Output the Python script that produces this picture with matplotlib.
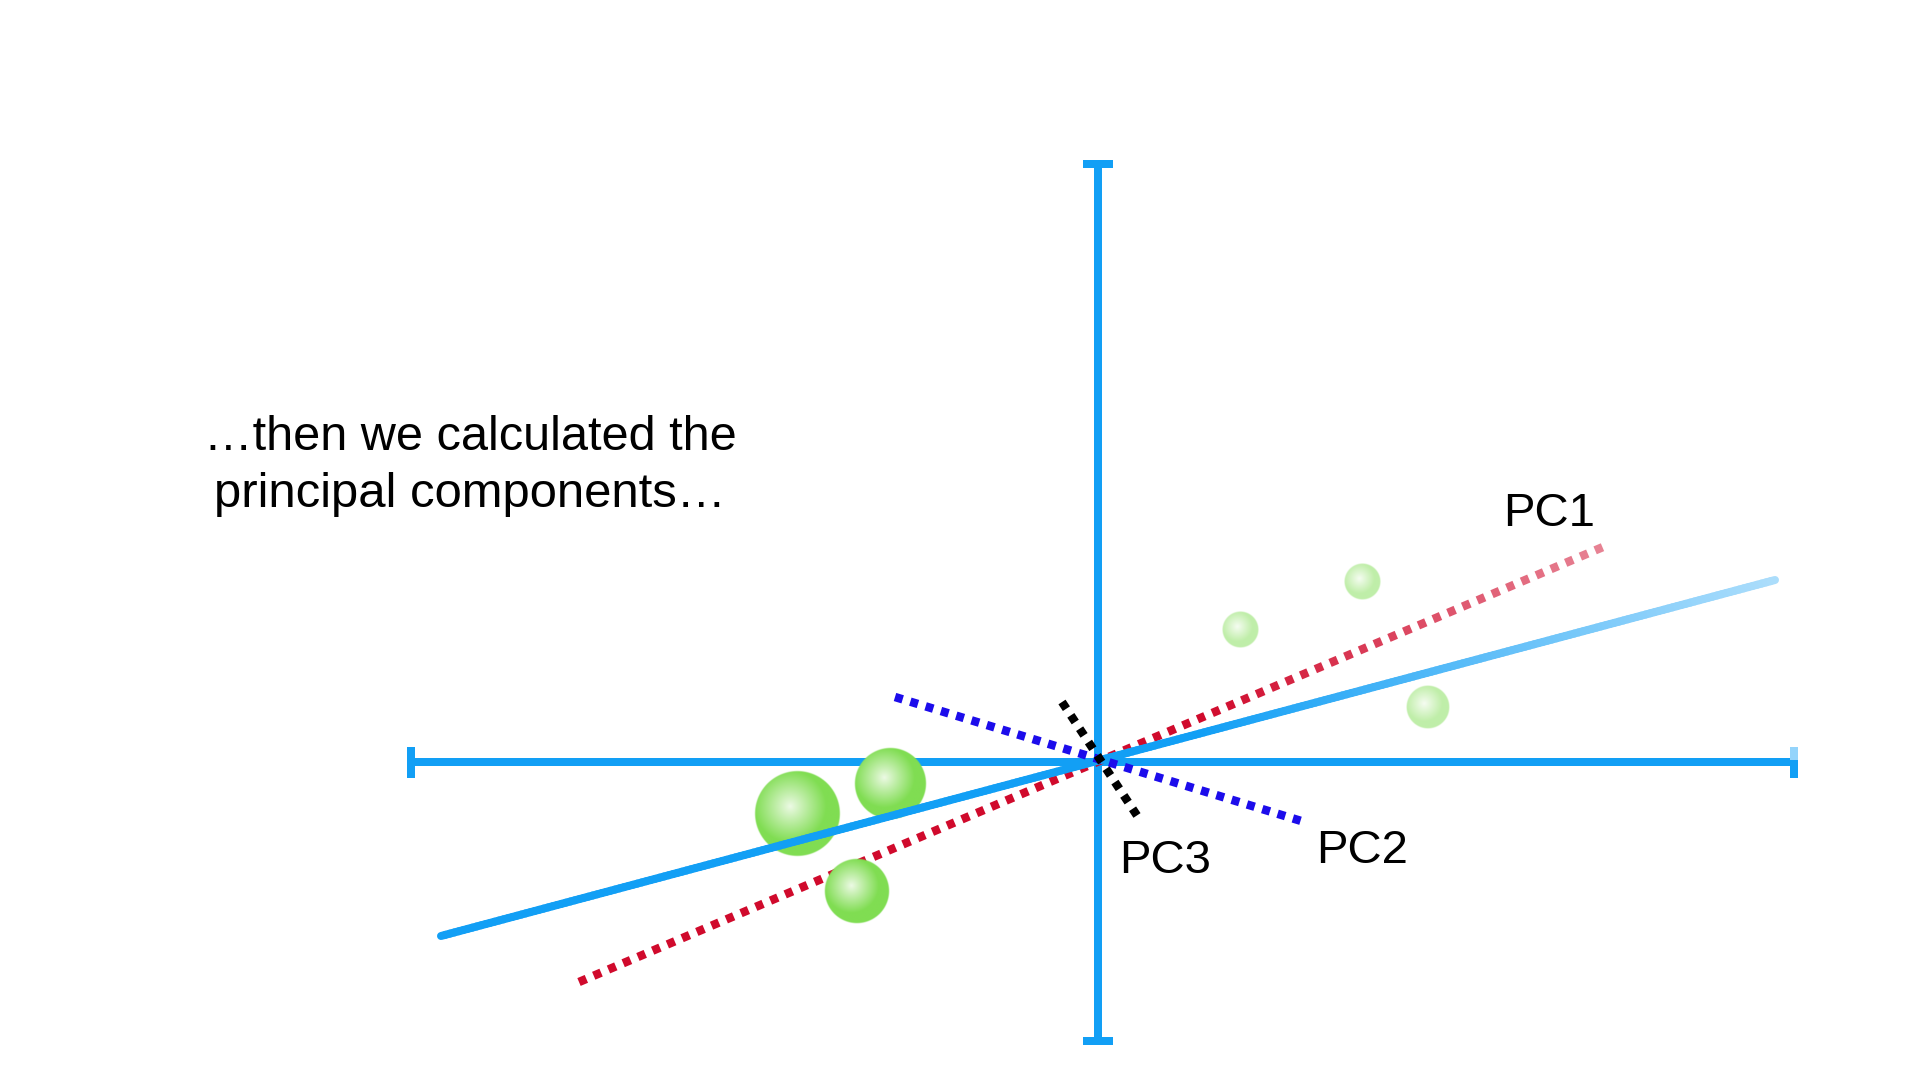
#!/usr/bin/env python3
"""PCA slide: rotated axes through the centre, with green samples around them."""
import matplotlib
matplotlib.use("Agg")
import matplotlib.pyplot as plt
import numpy as np
from matplotlib.collections import LineCollection
from matplotlib.colors import to_rgb

plt.rcParams["font.family"] = ["Liberation Sans", "DejaVu Sans"]

# everything is in pixels of the 1920x1080 slide, y going down
AXIS_H = [(411, 762), (1794, 762)]
AXIS_V = [(1098, 164), (1098, 1041)]
TILTED = [(441, 936), (1775, 580)]
PC1 = [(579, 982), (1603, 547)]
PC2 = [(895, 697), (1298, 820)]
PC3 = [(1062, 702), (1138, 817)]

# centre x, centre y, radius, opacity
FRONT_X = [797, 890, 857]
FRONT_Y = [814, 784, 891]
FRONT_R = [42.5, 35.5, 32]
BACK_X = [1362, 1240, 1428]
BACK_Y = [582, 630, 707]
BACK_R = [18, 18, 21.5]

TEXTS = [
    ("…then we calculated the", 470, 450, "center", 35),
    ("principal components…", 470, 507, "center", 35.3),
    ("PC1", 1503, 526, "left", 34),
    ("PC2", 1316, 863, "left", 34),
    ("PC3", 1119, 873, "left", 34),
]

AXIS_BLUE = "#129ff5"
RED = "#d00a2c"
DARK_BLUE = "#1c0ceb"
LW = 8 * 0.72  # px to points at dpi 100


def faded(col, fade):
    c = np.array(to_rgb(col))
    return tuple(c + (1 - c) * fade)


def fade_line(ax, ends, col, fade_from, fade_to, z, lw=LW):
    # solid line split in short pieces, paling from x=fade_from on
    (x0, y0), (x1, y1) = ends
    t = np.linspace(0, 1, 300)
    xs = x0 + (x1 - x0) * t
    ys = y0 + (y1 - y0) * t
    segs = [[(xs[i], ys[i]), (xs[i + 1], ys[i + 1])] for i in range(len(t) - 1)]
    amount = np.clip((xs[:-1] - fade_from) / (x1 - fade_from), 0, 1) * fade_to
    cols = [faded(col, a) for a in amount]
    ax.add_collection(LineCollection(segs, colors=cols, linewidths=lw, capstyle="round", zorder=z))


def dots(ax, ends, col, z, fade_from=None, fade_to=0.0, period=16.0, dash=8.0):
    (x0, y0), (x1, y1) = ends
    length = np.hypot(x1 - x0, y1 - y0)
    ux, uy = (x1 - x0) / length, (y1 - y0) / length
    segs, cols = [], []
    for s in np.arange(0, length - dash / 2, period):
        a = (x0 + ux * s, y0 + uy * s)
        b = (x0 + ux * (s + dash), y0 + uy * (s + dash))
        segs.append([a, b])
        amount = 0.0
        if fade_from is not None:
            amount = np.clip((a[0] - fade_from) / (x1 - fade_from), 0, 1) * fade_to
        cols.append(faded(col, amount))
    ax.add_collection(LineCollection(segs, colors=cols, linewidths=8.5 * 0.72, capstyle="butt", zorder=z))


def sphere(ax, cx, cy, r, opacity, z):
    # radial shading with the highlight a little up and left of the centre
    n = int(r * 4)
    g = np.linspace(-1.02, 1.02, n)
    gx, gy = np.meshgrid(g, g)
    dist = np.hypot(gx, gy)
    shade = np.clip(np.hypot(gx + 0.17, gy + 0.17) / 0.85, 0, 1) ** 0.95
    light = np.array([0.93, 0.98, 0.90])
    green = np.array(to_rgb("#80dd52"))
    rgba = np.zeros((n, n, 4))
    rgba[..., :3] = light + (green - light) * shade[..., None]
    rgba[..., 3] = np.clip((1 - dist) * r + 0.5, 0, 1) * opacity
    ax.imshow(rgba, extent=(cx - r * 1.02, cx + r * 1.02, cy + r * 1.02, cy - r * 1.02),
              interpolation="bilinear", zorder=z, aspect="auto")


fig = plt.figure(figsize=(19.2, 10.8), dpi=100, facecolor="white")
ax = fig.add_axes([0, 0, 1, 1])
ax.axis("off")

# axes with their end caps
ax.plot(*zip(*AXIS_H), color=AXIS_BLUE, lw=LW, solid_capstyle="butt", zorder=1)
ax.plot(*zip(*AXIS_V), color=AXIS_BLUE, lw=LW, solid_capstyle="butt", zorder=1)
ax.plot([1083, 1113], [AXIS_V[0][1]] * 2, color=AXIS_BLUE, lw=LW, solid_capstyle="butt", zorder=1)
ax.plot([1083, 1113], [AXIS_V[1][1]] * 2, color=AXIS_BLUE, lw=LW, solid_capstyle="butt", zorder=1)
ax.plot([AXIS_H[0][0]] * 2, [747, 778], color=AXIS_BLUE, lw=LW, solid_capstyle="butt", zorder=1)
ax.plot([AXIS_H[1][0]] * 2, [760, 778], color=AXIS_BLUE, lw=LW, solid_capstyle="butt", zorder=1)
ax.plot([AXIS_H[1][0]] * 2, [747, 760], color=faded(AXIS_BLUE, 0.55), lw=LW, solid_capstyle="butt", zorder=1)

dots(ax, PC1, RED, 2, fade_from=1200, fade_to=0.5)

for x, y, r in zip(FRONT_X[1:], FRONT_Y[1:], FRONT_R[1:]):
    sphere(ax, x, y, r, 1.0, 3)
sphere(ax, FRONT_X[0], FRONT_Y[0], FRONT_R[0], 1.0, 3.1)
for x, y, r in zip(BACK_X, BACK_Y, BACK_R):
    sphere(ax, x, y, r, 0.5, 3)

fade_line(ax, TILTED, AXIS_BLUE, 1200, 0.65, 4, lw=8 * 0.72)
dots(ax, PC2, DARK_BLUE, 5)
dots(ax, PC3, "black", 6)

for label, x, y, ha, size in TEXTS:
    ax.text(x, y, label, fontsize=size, color="black", ha=ha, va="baseline", zorder=7)

ax.set_xlim(0, 1920)
ax.set_ylim(1080, 0)

fig.savefig("out.png", dpi=100, facecolor="white")
